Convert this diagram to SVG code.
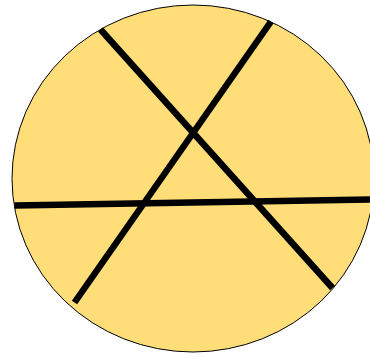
<svg xmlns="http://www.w3.org/2000/svg" width="370" height="358" viewBox="0 0 370 358">
<style>
.disc{fill:#FFDE7A;stroke:#000;stroke-width:1}
.cut{stroke:#000;stroke-width:6.5;fill:none;stroke-linecap:butt}
</style>
<rect width="370" height="358" fill="#fff"/>
<g id="disc"><ellipse class="disc" cx="193" cy="178.5" rx="181" ry="173.5"/></g>
<g id="connectors">
<line class="cut" x1="100.5" y1="29.5" x2="332.5" y2="288"/>
<line class="cut" x1="271" y1="21.5" x2="74.5" y2="302.5"/>
<line class="cut" x1="14.5" y1="205.5" x2="370" y2="199.5"/>
</g>
</svg>
